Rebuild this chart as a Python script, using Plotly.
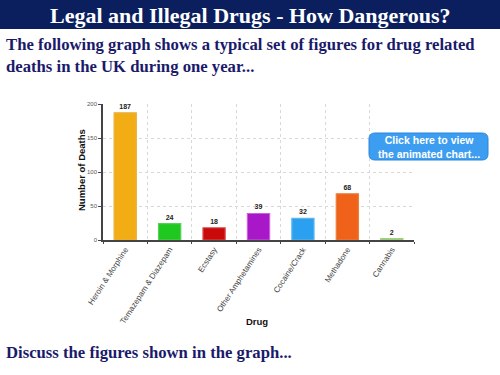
import plotly.graph_objects as go

drugs = ["Heroin & Morphine", "Temazepam & Diazepam", "Ecstasy", "Other Amphetamines",
         "Cocaine/Crack", "Methadone", "Cannabis"]
deaths = [187, 24, 18, 39, 32, 68, 2]
bar_colors = ["#f3ad14", "#1ec81e", "#c80a0a", "#a818c8", "#2ca0f0", "#f0621a", "#8cc060"]
bar_lines = ["#e8b040", "#58d058", "#e05050", "#c860e0", "#60b8f0", "#e88040", "#a0d080"]
y_ticks = [0, 50, 100, 150, 200]

W, H = 500, 375
def px(x): return x / W
def py(y): return 1 - y / H

fig = go.Figure()
fig.add_trace(go.Bar(
    x=drugs, y=deaths, width=0.5,
    marker=dict(color=bar_colors, line=dict(color=bar_lines, width=1.2)),
    text=[str(v) for v in deaths], textposition="outside",
    textfont=dict(family="Liberation Sans", size=7, color="#222222"),
    texttemplate="<b>%{text}</b>", cliponaxis=False,
))

fig.update_layout(
    width=W, height=H, autosize=False,
    margin=dict(l=0, r=0, t=0, b=0, pad=0),
    paper_bgcolor="white", plot_bgcolor="white",
    showlegend=False,
    xaxis=dict(domain=[px(103), px(414)], tickangle=-57, tickson="boundaries",
               automargin=False,
               showgrid=True, gridcolor="#d8d8d8", griddash="dot", gridwidth=1,
               showline=True, linecolor="#444444", linewidth=1.5,
               ticks="outside", ticklen=2, tickcolor="#444444",
               tickfont=dict(family="Liberation Sans", size=8, color="#444444"),
               fixedrange=True),
    yaxis=dict(domain=[py(240), py(104)], range=[0, 200], tickvals=y_ticks,
               automargin=False,
               showgrid=True, gridcolor="#d8d8d8", griddash="dot", gridwidth=1,
               showline=True, linecolor="#444444", linewidth=1.5,
               ticks="outside", ticklen=3, tickcolor="#444444",
               tickfont=dict(family="Liberation Sans", size=6, color="#555555"),
               zeroline=False, fixedrange=True),
    bargap=0.5,
)

# header band
fig.add_shape(type="rect", xref="paper", yref="paper", x0=0, x1=1, y0=py(29), y1=1,
              fillcolor="#0b1f5e", line=dict(width=0), layer="below")

# button with rounded corners
bx0, bx1, by0, by1, r = px(369), px(488), py(160), py(133), 6
rx, ry = r / W, r / H
path = (f"M {bx0+rx},{by1} L {bx1-rx},{by1} Q {bx1},{by1} {bx1},{by1-ry} "
        f"L {bx1},{by0+ry} Q {bx1},{by0} {bx1-rx},{by0} L {bx0+rx},{by0} "
        f"Q {bx0},{by0} {bx0},{by0+ry} L {bx0},{by1-ry} Q {bx0},{by1} {bx0+rx},{by1} Z")
fig.add_shape(type="path", xref="paper", yref="paper", path=path,
              fillcolor="#3d9df0", line=dict(color="#2a86da", width=1))

annots = [
    dict(text="<b>Legal and Illegal Drugs - How Dangerous?</b>", x=0.5, y=py(15),
         xanchor="center", yanchor="middle",
         font=dict(family="Liberation Serif", size=22, color="white")),
    dict(text="<b>The following graph shows a typical set of figures for drug related<br>deaths in the UK during one year...</b>",
         x=px(4), y=py(33), xanchor="left", yanchor="top", align="left",
         font=dict(family="Liberation Serif", size=16.7, color="#1a1a6a")),
    dict(text="<b>Discuss the figures shown in the graph...</b>", x=px(4), y=py(352),
         xanchor="left", yanchor="middle",
         font=dict(family="Liberation Serif", size=16.7, color="#1a1a6a")),
    dict(text="<b>Number of Deaths</b>", x=px(81), y=py(170), textangle=-90,
         xanchor="center", yanchor="middle",
         font=dict(family="Liberation Sans", size=9.5, color="#111111")),
    dict(text="<b>Drug</b>", x=px(257), y=py(321), xanchor="center", yanchor="middle",
         font=dict(family="Liberation Sans", size=9.5, color="#111111")),
    dict(text="<b>Click here to view<br>the animated chart...</b>", x=px(428.5), y=py(146.5),
         xanchor="center", yanchor="middle", align="center",
         font=dict(family="Liberation Sans", size=10.5, color="white")),
]
for a in annots:
    a.update(xref="paper", yref="paper", showarrow=False)
    fig.add_annotation(**a)

fig.write_html("out.html", post_script="document.body.style.margin='0';",
               config={"displayModeBar": False})
